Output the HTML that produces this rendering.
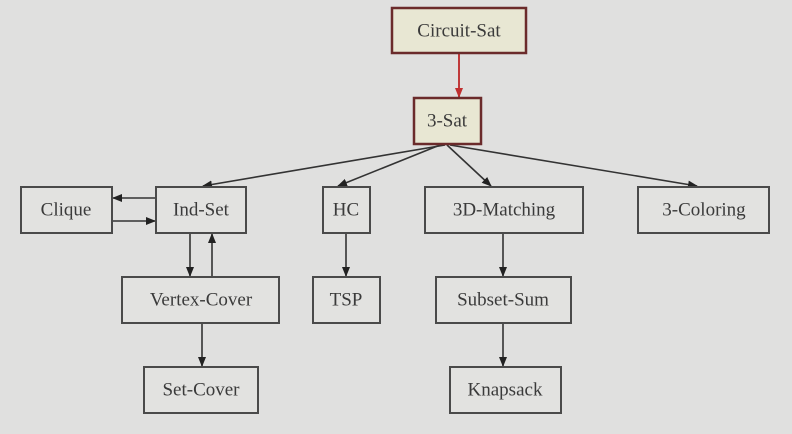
<!DOCTYPE html>
<html><head><style>
html,body{margin:0;padding:0;background:#e0e0df;}
svg{display:block;}
text{font-family:"Liberation Serif",serif;font-size:19px;fill:#3a3a3a;text-anchor:middle;dominant-baseline:central;}
.b{fill:#e2e2e0;stroke:#4a4a4a;stroke-width:2;}
.r{fill:#e8e7d3;stroke:#6b2b2b;stroke-width:2.5;}
.l{stroke:#333;stroke-width:1.6;fill:none;marker-end:url(#a);}
</style></head><body>
<svg width="792" height="434" viewBox="0 0 792 434">
<defs>
<marker id="a" markerWidth="10" markerHeight="8" refX="9" refY="4" orient="auto" markerUnits="userSpaceOnUse"><path d="M0,0L10,4L0,8z" fill="#222"/></marker>
<marker id="ar" markerWidth="10" markerHeight="8" refX="9" refY="4" orient="auto" markerUnits="userSpaceOnUse"><path d="M0,0L10,4L0,8z" fill="#c03030"/></marker>
</defs>
<rect width="792" height="434" fill="#e0e0df"/>
<line x1="459" y1="53" x2="459" y2="97" stroke="#c03a3a" stroke-width="2" marker-end="url(#ar)"/>
<line class="l" x1="445" y1="145" x2="203" y2="186"/>
<line class="l" x1="440" y1="145" x2="338" y2="186"/>
<line class="l" x1="447" y1="145" x2="491" y2="186"/>
<line class="l" x1="450" y1="145" x2="697" y2="186"/>
<line class="l" x1="156" y1="198" x2="113" y2="198"/>
<line class="l" x1="113" y1="221" x2="155" y2="221"/>
<line class="l" x1="190" y1="233" x2="190" y2="276"/>
<line class="l" x1="212" y1="277" x2="212" y2="234"/>
<line class="l" x1="202" y1="323" x2="202" y2="366"/>
<line class="l" x1="346" y1="233" x2="346" y2="276"/>
<line class="l" x1="503" y1="233" x2="503" y2="276"/>
<line class="l" x1="503" y1="323" x2="503" y2="366"/>
<rect class="r" x="392" y="8" width="134" height="45"/><text x="459" y="31">Circuit-Sat</text>
<rect class="r" x="414" y="98" width="67" height="46"/><text x="447" y="121">3-Sat</text>
<rect class="b" x="21" y="187" width="91" height="46"/><text x="66" y="210">Clique</text>
<rect class="b" x="156" y="187" width="90" height="46"/><text x="201" y="210">Ind-Set</text>
<rect class="b" x="323" y="187" width="47" height="46"/><text x="346" y="210">HC</text>
<rect class="b" x="425" y="187" width="158" height="46"/><text x="504" y="210">3D-Matching</text>
<rect class="b" x="638" y="187" width="131" height="46"/><text x="704" y="210">3-Coloring</text>
<rect class="b" x="122" y="277" width="157" height="46"/><text x="201" y="300">Vertex-Cover</text>
<rect class="b" x="313" y="277" width="67" height="46"/><text x="346" y="300">TSP</text>
<rect class="b" x="436" y="277" width="135" height="46"/><text x="503" y="300">Subset-Sum</text>
<rect class="b" x="144" y="367" width="114" height="46"/><text x="201" y="390">Set-Cover</text>
<rect class="b" x="450" y="367" width="111" height="46"/><text x="505" y="390">Knapsack</text>
</svg>
</body></html>
